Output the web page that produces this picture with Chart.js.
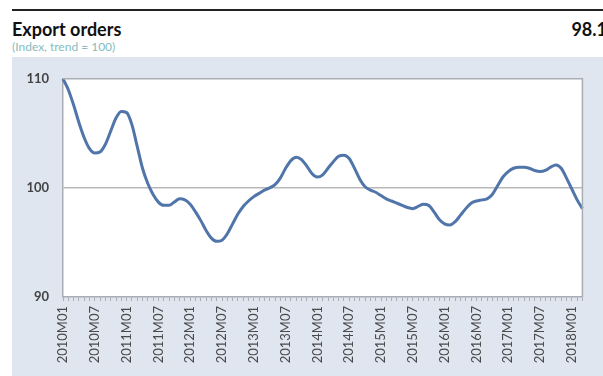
<!DOCTYPE html>
<html>
<head>
<meta charset="utf-8">
<script src="https://cdn.jsdelivr.net/npm/chart.js@4.4.1/dist/chart.umd.min.js"></script>
<style>
  body { margin: 0; background: #fff; width: 603px; height: 376px; overflow: hidden; position: relative; font-family: Lato, "Liberation Sans", sans-serif; }
  #rule { position: absolute; left: 12px; top: 9px; width: 591px; height: 2px; background: #222; }
  #title { position: absolute; left: 12px; top: 18px; font-size: 18px; font-weight: bold; color: #111; }
  #last { position: absolute; right: -4px; top: 18px; font-size: 18px; font-weight: bold; color: #111; }
  #sub { position: absolute; left: 12px; top: 39px; font-size: 12px; color: #86bcc1; }
  #panel { position: absolute; left: 12px; top: 57px; width: 591px; height: 319px; background: #dfe6f0; }
</style>
</head>
<body>
<div id="rule"></div>
<div id="title">Export orders</div>
<div id="last">98.1</div>
<div id="sub">(Index, trend = 100)</div>
<div id="panel"><canvas id="chart" width="591" height="319"></canvas></div>
<script>
// monthly index values, 2010M01 .. 2018M03
const values = [
  110.0, 109.0, 107.6, 106.0, 104.6, 103.6, 103.2, 103.3, 104.0, 105.2, 106.4, 107.0,
  106.9, 105.8, 103.8, 101.8, 100.4, 99.4, 98.7, 98.4, 98.4, 98.7, 99.0, 98.9,
  98.5, 97.8, 97.0, 96.1, 95.4, 95.1, 95.2, 95.8, 96.7, 97.6, 98.3, 98.8,
  99.2, 99.5, 99.8, 100.0, 100.3, 100.9, 101.8, 102.5, 102.8, 102.6, 102.0, 101.3,
  101.0, 101.2, 101.8, 102.4, 102.9, 103.0, 102.7, 101.8, 100.8, 100.1, 99.8, 99.6,
  99.3, 99.0, 98.8, 98.6, 98.4, 98.2, 98.1, 98.3, 98.5, 98.4, 97.8, 97.1,
  96.7, 96.6, 96.9, 97.5, 98.1, 98.6, 98.8, 98.9, 99.0, 99.4, 100.2, 101.0,
  101.5, 101.8, 101.9, 101.9, 101.8, 101.6, 101.5, 101.6, 101.9, 102.1, 101.8, 100.9,
  99.9, 98.9, 98.1
];
const startYear = 2010;
const yTicks = [90, 100, 110];

// month labels like 2010M01
const labels = values.map((v, i) => {
  const y = startYear + Math.floor(i / 12);
  const m = (i % 12) + 1;
  return y + 'M' + String(m).padStart(2, '0');
});

// white plot area with grey frame
const frame = {
  id: 'frame',
  beforeDraw(chart) {
    const { ctx, chartArea: a } = chart;
    ctx.save();
    ctx.fillStyle = '#ffffff';
    ctx.fillRect(a.left, a.top, a.right - a.left, a.bottom - a.top);
    ctx.restore();
  },
  afterDraw(chart) {
    const { ctx, chartArea: a } = chart;
    ctx.save();
    ctx.strokeStyle = '#a9aeb5';
    ctx.lineWidth = 1.5;
    ctx.beginPath();
    ctx.moveTo(a.left, a.top);
    ctx.lineTo(a.right, a.top);
    ctx.lineTo(a.right, a.bottom);
    ctx.stroke();
    ctx.restore();
  }
};

new Chart(document.getElementById('chart'), {
  type: 'line',
  data: {
    labels: labels,
    datasets: [{
      data: values,
      borderColor: '#5075aa',
      borderWidth: 3,
      pointRadius: 0,
      tension: 0.4,
      cubicInterpolationMode: 'monotone',
      clip: false
    }]
  },
  options: {
    responsive: false,
    animation: false,
    layout: { padding: { top: 20, right: 11, left: 0, bottom: 0 } },
    plugins: { legend: { display: false }, tooltip: { enabled: false } },
    scales: {
      x: {
        offset: false,
        afterFit: s => { s.height = 79; },
        grid: {
          drawOnChartArea: false,
          tickLength: 4,
          color: '#a9aeb5'
        },
        border: { color: '#a9aeb5', width: 1.5 },
        ticks: {
          autoSkip: false,
          minRotation: 90,
          maxRotation: 90,
          padding: 5,
          color: '#4a4a4a',
          font: { family: 'Lato', size: 13 },
          callback: (v, i) => (i % 6 === 0 ? labels[i] : '')
        }
      },
      y: {
        min: yTicks[0],
        max: yTicks[yTicks.length - 1],
        afterFit: s => { s.width = 51; },
        afterBuildTicks: s => { s.ticks = yTicks.map(v => ({ value: v })); },
        grid: {
          color: c => (c.tick && c.tick.value === 100 ? '#b8b8b8' : 'rgba(0,0,0,0)'),
          lineWidth: 1.5,
          drawTicks: false
        },
        border: { color: '#a9aeb5', width: 1.5 },
        ticks: {
          padding: 14,
          color: '#444',
          font: { family: 'Lato', size: 13, weight: 'bold' }
        }
      }
    }
  },
  plugins: [frame]
});
</script>
</body>
</html>
